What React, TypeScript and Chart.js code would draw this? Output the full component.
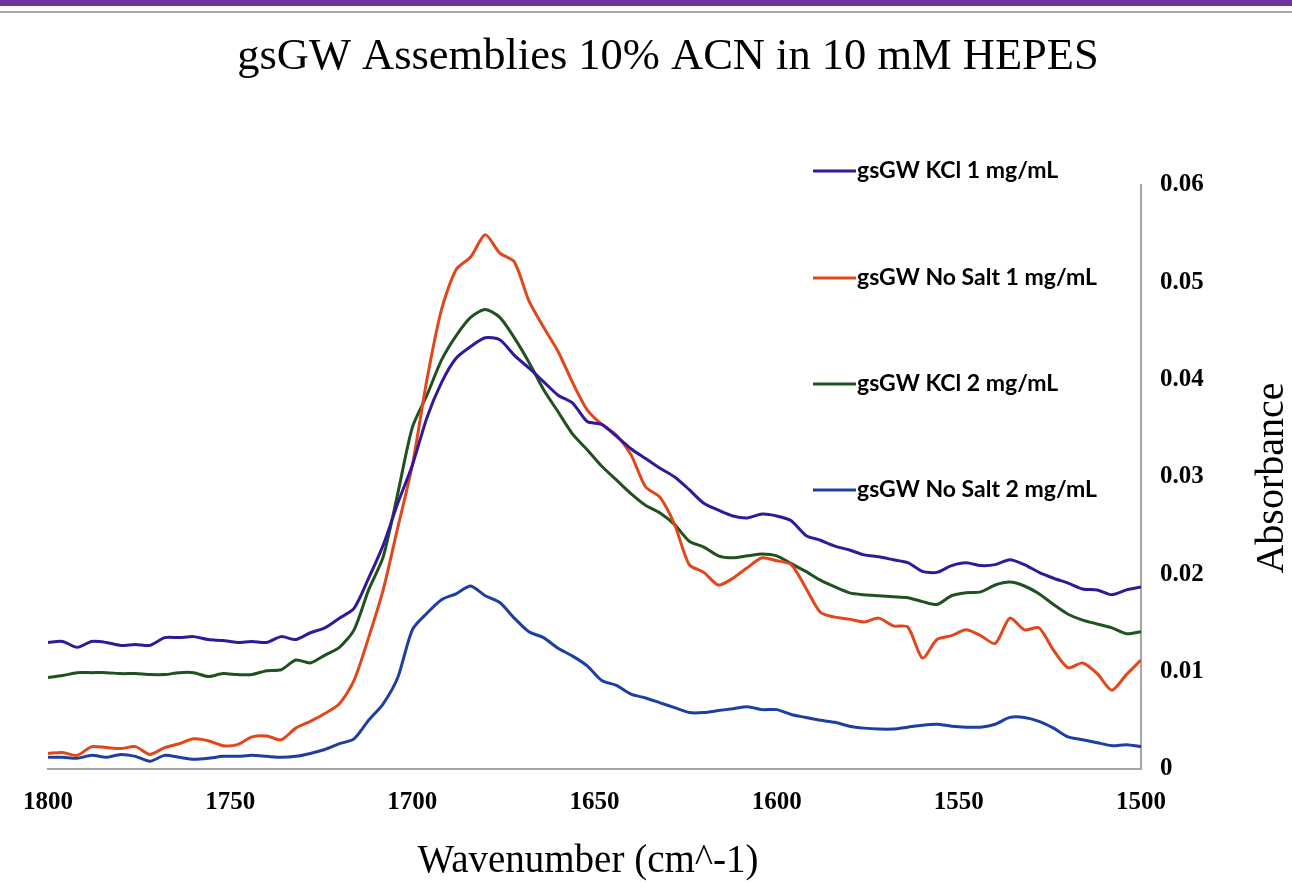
import { useEffect, useRef } from "react";
import { Chart, registerables } from "chart.js";

Chart.register(...registerables);

const WAVENUMBERS = [
  1800, 1796, 1792, 1788, 1784, 1780, 1776, 1772, 1768, 1764,
  1760, 1756, 1752, 1748, 1744, 1740, 1736, 1732, 1728, 1724,
  1720, 1716, 1712, 1708, 1704, 1700, 1696, 1692, 1688, 1684,
  1680, 1676, 1672, 1668, 1664, 1660, 1656, 1652, 1648, 1644,
  1640, 1636, 1632, 1628, 1624, 1620, 1616, 1612, 1608, 1604,
  1600, 1596, 1592, 1588, 1584, 1580, 1576, 1572, 1568, 1564,
  1560, 1556, 1552, 1548, 1544, 1540, 1536, 1532, 1528, 1524,
  1520, 1516, 1512, 1508, 1504, 1500,
];

const KCL_1MG = [
  0.013, 0.0131, 0.0125, 0.0131, 0.013, 0.0127, 0.0128, 0.0127, 0.0135, 0.0135,
  0.0136, 0.0133, 0.0132, 0.013, 0.0131, 0.013, 0.0136, 0.0133, 0.014, 0.0145,
  0.0155, 0.0165, 0.0196, 0.023, 0.0273, 0.0312, 0.0361, 0.0397, 0.0422, 0.0434,
  0.0443, 0.0441, 0.0425, 0.0412, 0.0398, 0.0384, 0.0376, 0.0357, 0.0354, 0.0342,
  0.0329, 0.0319, 0.0309, 0.03, 0.0287, 0.0273, 0.0266, 0.026, 0.0258, 0.0262,
  0.026, 0.0255, 0.024, 0.0235, 0.0229, 0.0225, 0.022, 0.0218, 0.0215, 0.0212,
  0.0203, 0.0202, 0.0209, 0.0212, 0.0209, 0.021, 0.0215, 0.021, 0.0202, 0.0196,
  0.0191, 0.0185, 0.0184, 0.0179, 0.0184, 0.0187,
];

const NO_SALT_1MG = [
  0.0016, 0.0017, 0.0014, 0.0023, 0.0022, 0.0021, 0.0023, 0.0015, 0.0022, 0.0026,
  0.0031, 0.0029, 0.0024, 0.0025, 0.0033, 0.0034, 0.003, 0.0042, 0.0049, 0.0057,
  0.0067, 0.0091, 0.0135, 0.0184, 0.0248, 0.0312, 0.04, 0.0472, 0.0513, 0.0526,
  0.0549, 0.053, 0.0521, 0.0481, 0.0454, 0.0429, 0.0397, 0.0369, 0.0354, 0.0343,
  0.0323, 0.029, 0.0279, 0.0251, 0.021, 0.0202, 0.0189, 0.0196, 0.0207, 0.0217,
  0.0214, 0.021, 0.0186, 0.0161, 0.0156, 0.0154, 0.0151, 0.0155, 0.0147, 0.0146,
  0.0114, 0.0133, 0.0137, 0.0143, 0.0137, 0.0129, 0.0155, 0.0143, 0.0145, 0.0122,
  0.0104, 0.0109, 0.0098, 0.0081, 0.0097, 0.0112,
];

const KCL_2MG = [
  0.0094, 0.0096, 0.0099, 0.0099, 0.0099, 0.0098, 0.0098, 0.0097, 0.0097, 0.0099,
  0.0099, 0.0095, 0.0098, 0.0097, 0.0097, 0.0101, 0.0102, 0.0112, 0.0109, 0.0117,
  0.0125, 0.0143, 0.0184, 0.0218, 0.0283, 0.0351, 0.0384, 0.042, 0.0445, 0.0464,
  0.0472, 0.0464, 0.0443, 0.0418, 0.039, 0.0367, 0.0344, 0.0328, 0.0311, 0.0297,
  0.0283, 0.0271, 0.0263, 0.0251, 0.0234, 0.0228, 0.0219, 0.0217, 0.0219, 0.0221,
  0.0219, 0.0211, 0.0203, 0.0194, 0.0187, 0.0181, 0.0179, 0.0178, 0.0177, 0.0176,
  0.0172, 0.0169, 0.0178, 0.0181, 0.0182, 0.0189, 0.0192, 0.0188, 0.018, 0.0169,
  0.0159, 0.0153, 0.0149, 0.0145, 0.0139, 0.0141,
];

const NO_SALT_2MG = [
  0.0012, 0.0012, 0.0011, 0.0014, 0.0012, 0.0015, 0.0013, 0.0008, 0.0014, 0.0012,
  0.001, 0.0011, 0.0013, 0.0013, 0.0014, 0.0013, 0.0012, 0.0013, 0.0016, 0.002,
  0.0026, 0.0031, 0.005, 0.0067, 0.0094, 0.0143, 0.016, 0.0174, 0.018, 0.0188,
  0.0178, 0.0171, 0.0155, 0.0141, 0.0135, 0.0124, 0.0116, 0.0106, 0.0091, 0.0086,
  0.0077, 0.0073, 0.0068, 0.0063, 0.0058, 0.0058, 0.006, 0.0062, 0.0064, 0.0061,
  0.0061, 0.0056, 0.0053, 0.005, 0.0048, 0.0044, 0.0042, 0.0041, 0.0041, 0.0043,
  0.0045, 0.0046, 0.0044, 0.0043, 0.0043, 0.0046, 0.0053, 0.0053, 0.0049, 0.0042,
  0.0033, 0.003, 0.0027, 0.0024, 0.0025, 0.0023,
];

const SERIES_LABELS = [
  "gsGW KCl 1 mg/mL",
  "gsGW No Salt 1 mg/mL",
  "gsGW KCl 2 mg/mL",
  "gsGW No Salt 2 mg/mL",
];
const SERIES_VALUES = [KCL_1MG, NO_SALT_1MG, KCL_2MG, NO_SALT_2MG];
const SERIES_COLORS = ["#32199a", "#e2461b", "#1f521f", "#1c3fa3"];

const TITLE = "gsGW Assemblies 10% ACN in 10 mM HEPES";
const X_TITLE = "Wavenumber (cm^-1)";
const Y_TITLE = "Absorbance";

const X_MIN = 1500;
const X_MAX = 1800;
const X_STEP = 50;
const Y_MIN = 0;
const Y_MAX = 0.06;
const Y_STEP = 0.01;

const W = 1292;
const H = 887;
const SERIF = "'Liberation Serif', 'Times New Roman', serif";
const SANS = "Lato, 'Liberation Sans', sans-serif";

const decorPlugin = {
  id: "decor",
  beforeDraw(chart: any) {
    const ctx = chart.ctx;
    ctx.save();
    ctx.fillStyle = "#ffffff";
    ctx.fillRect(0, 0, W, H);
    ctx.fillStyle = "#7030a0";
    ctx.fillRect(0, 0, W, 6);
    ctx.fillStyle = "#a9a9a9";
    ctx.fillRect(0, 11, W, 2);
    ctx.restore();
  },
  afterDraw(chart: any) {
    const ctx = chart.ctx;
    ctx.save();
    ctx.fillStyle = "#000000";
    ctx.textAlign = "center";
    ctx.textBaseline = "middle";
    ctx.font = `44.5px ${SERIF}`;
    ctx.fillText(TITLE, 668, 57);
    ctx.font = `39px ${SERIF}`;
    ctx.fillText(X_TITLE, 588, 862);
    ctx.font = `40px ${SERIF}`;
    ctx.save();
    ctx.translate(1272, 478);
    ctx.rotate(-Math.PI / 2);
    ctx.fillText(Y_TITLE, 0, 0);
    ctx.restore();

    const legendY = [171, 278, 384, 490];
    ctx.textAlign = "left";
    ctx.font = `bold 23px ${SANS}`;
    SERIES_LABELS.forEach((label, i) => {
      ctx.strokeStyle = SERIES_COLORS[i];
      ctx.lineWidth = 3;
      ctx.beginPath();
      ctx.moveTo(813, legendY[i]);
      ctx.lineTo(856, legendY[i]);
      ctx.stroke();
      ctx.fillStyle = "#000000";
      ctx.fillText(label, 857, legendY[i]);
    });
    ctx.restore();
  },
};

export default function App() {
  const canvasRef = useRef<HTMLCanvasElement | null>(null);

  useEffect(() => {
    if (!canvasRef.current) return;
    const datasets = SERIES_LABELS.map((label, i) => ({
      label,
      data: WAVENUMBERS.map((x, j) => ({ x, y: SERIES_VALUES[i][j] })),
      borderColor: SERIES_COLORS[i],
      backgroundColor: SERIES_COLORS[i],
      borderWidth: 3,
      pointRadius: 0,
      tension: 0.25,
      fill: false,
    }));
    const tickFont = { family: SERIF, size: 25, weight: "bold" as const };
    const chart = new Chart(canvasRef.current, {
      type: "line",
      data: { datasets },
      plugins: [decorPlugin],
      options: {
        animation: false,
        responsive: false,
        maintainAspectRatio: false,
        layout: { padding: { left: 48, top: 185, right: 51, bottom: 58 } },
        plugins: {
          legend: { display: false },
          title: { display: false },
          tooltip: { enabled: false },
        },
        scales: {
          x: {
            type: "linear",
            reverse: true,
            min: X_MIN,
            max: X_MAX,
            ticks: {
              stepSize: X_STEP,
              color: "#000000",
              font: tickFont,
              padding: 19,
              maxRotation: 0,
              callback: (v: any) => String(v),
            },
            grid: { display: false, drawTicks: false },
            border: { color: "#a6a6a6", width: 2 },
            afterFit: (s: any) => {
              s.height = 60;
            },
          },
          y: {
            position: "right",
            min: Y_MIN,
            max: Y_MAX,
            ticks: {
              stepSize: Y_STEP,
              color: "#000000",
              font: tickFont,
              padding: 19,
              callback: (v: any) => (Number(v) === 0 ? "0" : Number(v).toFixed(2)),
            },
            grid: { display: false, drawTicks: false },
            border: { color: "#a6a6a6", width: 2 },
            afterFit: (s: any) => {
              s.width = 100;
            },
          },
        },
      },
    });
    return () => chart.destroy();
  }, []);

  return (
    <div style={{ position: "absolute", left: 0, top: 0, width: W, height: H, background: "#fff" }}>
      <canvas ref={canvasRef} width={W} height={H} style={{ display: "block", width: W, height: H }} />
    </div>
  );
}
